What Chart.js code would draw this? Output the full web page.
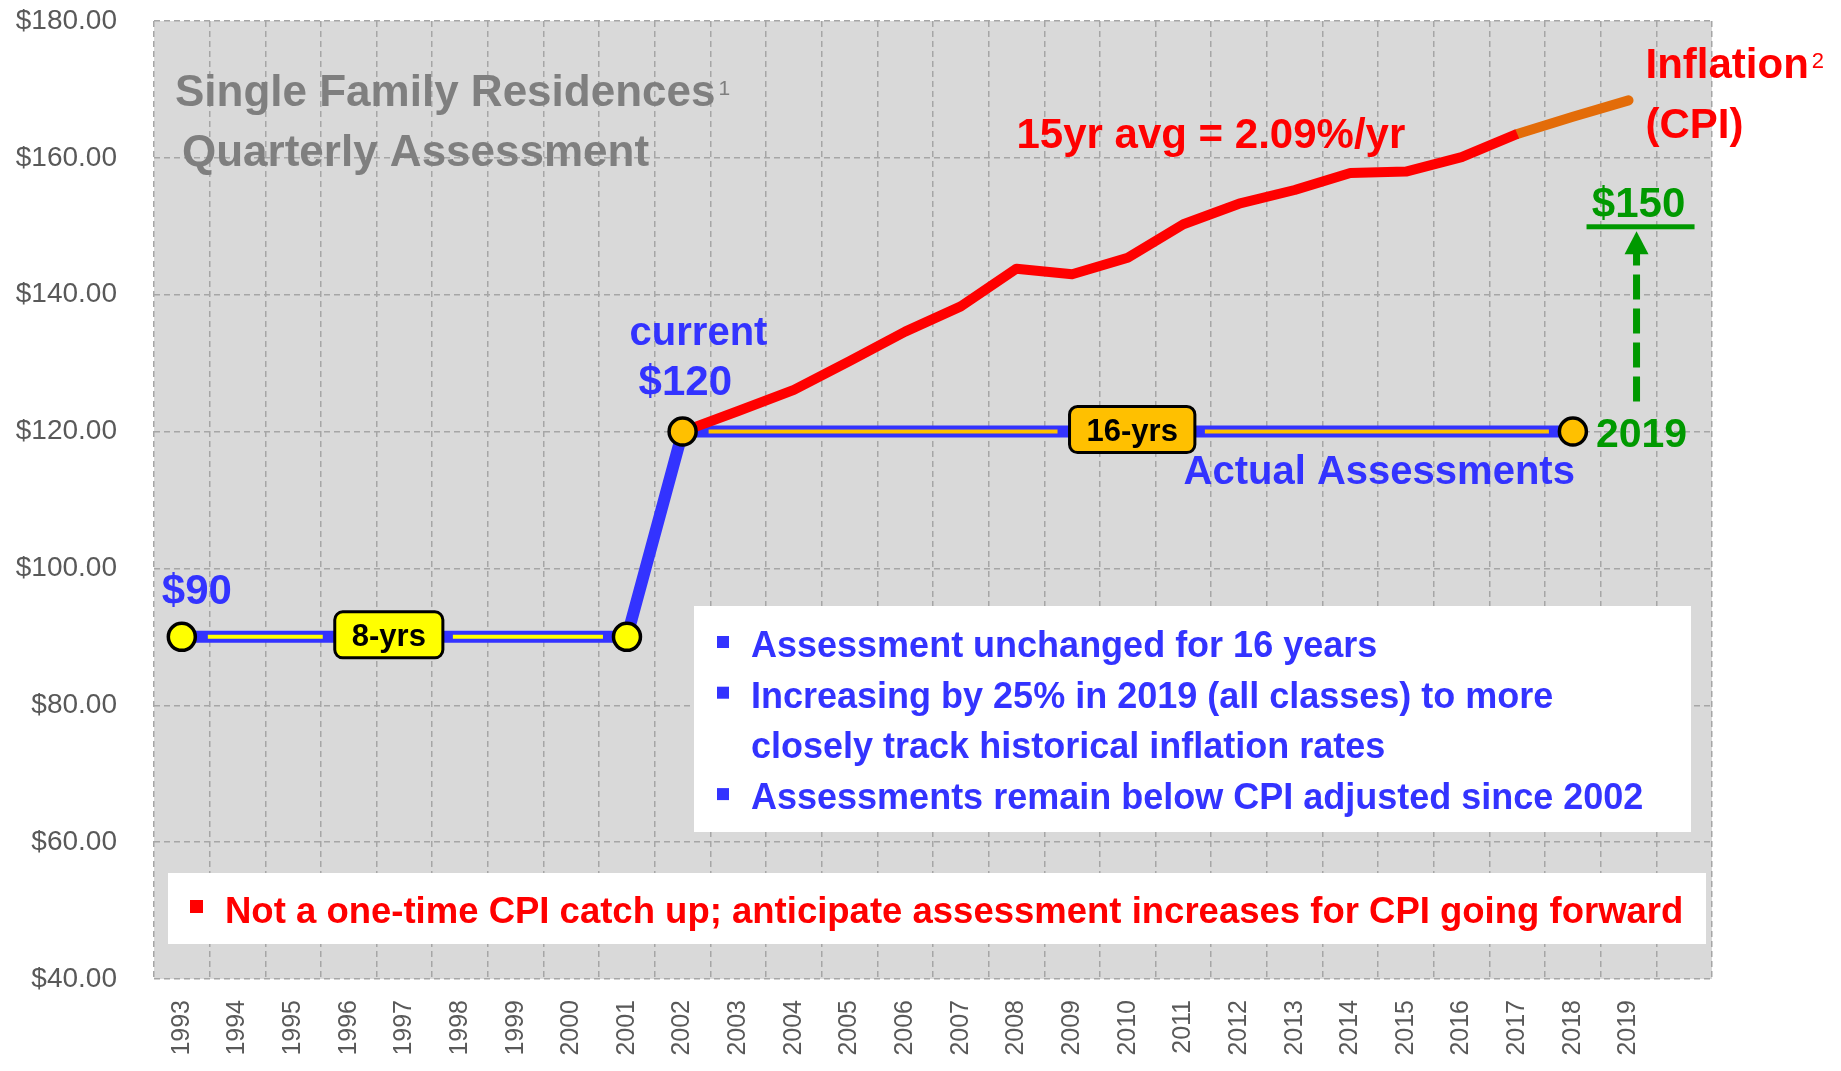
<!DOCTYPE html>
<html>
<head>
<meta charset="utf-8">
<title>Single Family Residences - Quarterly Assessment</title>
<script src="https://cdn.jsdelivr.net/npm/chart.js@4.4.1/dist/chart.umd.min.js"></script>
<style>
  html, body { margin: 0; padding: 0; background: #fff; }
  #wrap { width: 1841px; height: 1071px; position: relative; }
</style>
</head>
<body>
<div id="wrap"><canvas id="chart"></canvas></div>
<script>
// categories (last slot is an empty spacer, as in the original)
const years = ['1993', '1994', '1995', '1996', '1997', '1998', '1999', '2000', '2001',
  '2002', '2003', '2004', '2005', '2006', '2007', '2008', '2009', '2010', '2011',
  '2012', '2013', '2014', '2015', '2016', '2017', '2018', '2019', ''];
const yTicks = [40, 60, 80, 100, 120, 140, 160, 180];

// actual assessments
const assessYears = ['1993', '2001', '2002', '2018'];
const assessValues = [90, 90, 120, 120];

// inflation (CPI) adjusted
const cpiYears = ['2002', '2003', '2004', '2005', '2006', '2007', '2008', '2009', '2010',
  '2011', '2012', '2013', '2014', '2015', '2016', '2017'];
const cpiValues = [120, 123.0, 126.1, 130.3, 134.6, 138.3, 143.8, 143.0, 145.4,
  150.3, 153.3, 155.3, 157.8, 158.0, 160.1, 163.5];
const cpiForecastYears = ['2017', '2018', '2019'];
const cpiForecastValues = [163.5, 166.0, 168.4];

const newAssessment = 150;

const BLUE = '#3333FF';
const RED = '#FF0000';
const ORANGE = '#E36C09';
const GREEN = '#009900';
const YELLOW = '#FFFF00';
const GOLD = '#FFC000';
const GREY_TXT = '#7F7F7F';
const FONT = '"Liberation Sans", Arial, sans-serif';

const pointFill = [YELLOW, YELLOW, GOLD, GOLD];

// the year labels are a narrow face in the original; use it if the box has one
function hasFont(name) {
  const c = document.createElement('canvas').getContext('2d');
  const probe = '1993 wwmmii';
  c.font = '40px monospace';
  const base = c.measureText(probe).width;
  c.font = '40px "' + name + '", monospace';
  return c.measureText(probe).width !== base;
}
const yearFont = hasFont('Liberation Sans Narrow')
  ? { family: '"Liberation Sans Narrow", ' + FONT, size: 30 }
  : { family: FONT, size: 25 };

// put a (keys, values) pair onto the full year axis
function onYears(keys, vals) {
  return years.map(y => {
    const i = keys.indexOf(y);
    return i < 0 ? null : vals[i];
  });
}

function text(ctx, s, x, y, size, color, opts = {}) {
  ctx.font = (opts.weight || 'bold') + ' ' + size + 'px ' + FONT;
  ctx.fillStyle = color;
  ctx.textAlign = opts.align || 'left';
  ctx.textBaseline = 'alphabetic';
  ctx.fillText(s, x, y);
  return ctx.measureText(s).width;
}

function roundRect(ctx, x, y, w, h, r) {
  ctx.beginPath();
  ctx.moveTo(x + r, y);
  ctx.arcTo(x + w, y, x + w, y + h, r);
  ctx.arcTo(x + w, y + h, x, y + h, r);
  ctx.arcTo(x, y + h, x, y, r);
  ctx.arcTo(x, y, x + w, y, r);
  ctx.closePath();
}

// labelled spans on the assessment line
const spans = [
  { text: '8-yrs', from: '1993', to: '2001', fill: YELLOW, at: 0.465 },
  { text: '16-yrs', from: '2002', to: '2018', fill: GOLD, at: 0.505 }
];

const overlay = {
  id: 'overlay',
  beforeDraw(chart) {
    const { ctx, chartArea: a } = chart;
    ctx.save();
    ctx.fillStyle = '#D9D9D9';
    ctx.fillRect(a.left, a.top, a.right - a.left, a.bottom - a.top);
    ctx.restore();
  },
  beforeDatasetsDraw(chart) {
    const { ctx, chartArea: a } = chart;
    ctx.save();
    // white note boxes
    ctx.fillStyle = '#FFFFFF';
    ctx.fillRect(a.left + 540, a.top + 585, 997, 226);
    ctx.fillRect(a.left + 14, a.top + 852, 1538, 71);

    const notes = [
      ['Assessment unchanged for 16 years', true],
      ['Increasing by 25% in 2019 (all classes) to more', true],
      ['closely track historical inflation rates', false],
      ['Assessments remain below CPI adjusted since 2002', true]
    ];
    notes.forEach((n, i) => {
      const base = a.top + 636 + i * 50.7;
      if (n[1]) {
        ctx.fillStyle = BLUE;
        ctx.fillRect(a.left + 563, base - 21, 12, 12);
      }
      text(ctx, n[0], a.left + 597, base, 36, BLUE);
    });

    ctx.fillStyle = RED;
    ctx.fillRect(a.left + 36, a.top + 902 - 23, 13, 13);
    text(ctx, 'Not a one-time CPI catch up; anticipate assessment increases for CPI going forward',
      a.left + 71, a.top + 902, 36.5, RED);
    ctx.restore();
  },
  afterDatasetDraw(chart, args) {
    if (args.index !== 0) return;
    const { ctx } = chart;
    const xs = chart.scales.x, ys = chart.scales.y;
    const X = y => xs.getPixelForValue(years.indexOf(y));
    ctx.save();
    ctx.font = 'bold 31px ' + FONT;
    spans.forEach(s => {
      const x0 = X(s.from), x1 = X(s.to);
      const y = ys.getPixelForValue(assessValues[assessYears.indexOf(s.from)]);
      const cx = x0 + (x1 - x0) * s.at;
      const half = ctx.measureText(s.text).width / 2 + 17;
      ctx.strokeStyle = s.fill;
      ctx.lineWidth = 4;
      ctx.beginPath();
      ctx.moveTo(x0 + 26, y); ctx.lineTo(cx - half - 12, y);
      ctx.moveTo(cx + half + 10, y); ctx.lineTo(x1 - 24, y);
      ctx.stroke();
    });
    ctx.restore();
  },
  afterDatasetsDraw(chart) {
    const { ctx, chartArea: a } = chart;
    const xs = chart.scales.x, ys = chart.scales.y;
    const X = y => xs.getPixelForValue(years.indexOf(y));
    const Y = v => ys.getPixelForValue(v);
    ctx.save();

    // span boxes
    spans.forEach(s => {
      const x0 = X(s.from), x1 = X(s.to);
      const y = Y(assessValues[assessYears.indexOf(s.from)]) - 2;
      const cx = x0 + (x1 - x0) * s.at;
      ctx.font = 'bold 31px ' + FONT;
      const w = ctx.measureText(s.text).width + 34;
      roundRect(ctx, cx - w / 2, y - 23, w, 46, 8);
      ctx.fillStyle = s.fill;
      ctx.fill();
      ctx.lineWidth = 3;
      ctx.strokeStyle = '#000';
      ctx.stroke();
      text(ctx, s.text, cx, y + 11, 31, '#000', { align: 'center' });
    });

    // title
    let w = text(ctx, 'Single Family Residences', a.left + 21, a.top + 85, 44, GREY_TXT);
    text(ctx, '1', a.left + 21 + w + 3, a.top + 74, 21, GREY_TXT, { weight: 'normal' });
    text(ctx, 'Quarterly Assessment', a.left + 28, a.top + 145, 44, GREY_TXT);

    // assessment labels
    text(ctx, '$90', X('1993') - 20, Y(90) - 33, 42, BLUE);
    text(ctx, 'current', X('2002') - 53, Y(120) - 87, 40, BLUE);
    text(ctx, '$120', X('2002') - 44, Y(120) - 37, 42, BLUE);
    text(ctx, 'Actual Assessments', X('2018') + 2, Y(120) + 52, 40, BLUE, { align: 'right' });

    // inflation labels
    const endV = cpiForecastValues[cpiForecastValues.length - 1];
    text(ctx, '15yr avg = 2.09%/yr', X('2008'), Y(161.4), 42, RED);
    w = text(ctx, 'Inflation', X('2019') + 17, Y(endV) - 22, 42, RED);
    text(ctx, '2', X('2019') + 17 + w + 3, Y(endV) - 32, 22, RED, { weight: 'normal' });
    text(ctx, '(CPI)', X('2019') + 17, Y(endV) + 38, 42, RED);

    // 2019 target
    const ax = X('2019') + 10;
    text(ctx, '2019', X('2018') + 23, Y(120) + 15, 41, GREEN);
    text(ctx, '$' + newAssessment, ax, Y(newAssessment) - 9, 42, GREEN, { align: 'center' });
    ctx.fillStyle = GREEN;
    ctx.fillRect(ax - 52, Y(newAssessment) - 2, 108, 5);
    const tip = Y(newAssessment) + 5;
    ctx.strokeStyle = GREEN;
    ctx.lineWidth = 7;
    ctx.setLineDash([25, 9]);
    ctx.beginPath();
    ctx.moveTo(ax - 2, Y(120) - 30);
    ctx.lineTo(ax - 2, tip + 22);
    ctx.stroke();
    ctx.setLineDash([]);
    ctx.beginPath();
    ctx.moveTo(ax - 2, tip);
    ctx.lineTo(ax - 2 + 12, tip + 23);
    ctx.lineTo(ax - 2 - 12, tip + 23);
    ctx.closePath();
    ctx.fill();

    ctx.restore();
  }
};

new Chart(document.getElementById('chart'), {
  type: 'line',
  data: {
    labels: years,
    datasets: [
      {
        label: 'Actual Assessments',
        data: onYears(assessYears, assessValues),
        borderColor: BLUE,
        borderWidth: 12,
        pointRadius: 0,
        spanGaps: true,
        tension: 0,
        order: 3
      },
      {
        label: 'Inflation (CPI)',
        data: onYears(cpiYears, cpiValues),
        borderColor: RED,
        borderWidth: 10,
        borderJoinStyle: 'round',
        pointRadius: 0,
        tension: 0,
        order: 1
      },
      {
        label: 'Inflation (CPI) 2018-2019',
        data: onYears(cpiForecastYears, cpiForecastValues),
        borderColor: ORANGE,
        borderWidth: 10,
        borderCapStyle: 'round',
        pointRadius: 0,
        tension: 0,
        order: 2
      },
      {
        label: 'Assessment points',
        data: onYears(assessYears, assessValues),
        showLine: false,
        pointRadius: 13.5,
        pointBorderWidth: 3.5,
        pointBorderColor: '#000',
        pointBackgroundColor: onYears(assessYears, pointFill),
        order: 0
      }
    ]
  },
  options: {
    responsive: true,
    maintainAspectRatio: false,
    animation: false,
    layout: { padding: { top: 21, right: 129, left: 0, bottom: 0 } },
    plugins: { legend: { display: false }, tooltip: { enabled: false } },
    scales: {
      x: {
        offset: true,
        grid: { offset: true, color: '#A6A6A6', lineWidth: 1.5, drawTicks: false },
        border: { display: false, dash: [6, 4] },
        ticks: {
          color: '#595959',
          font: yearFont,
          minRotation: 90,
          maxRotation: 90,
          autoSkip: false,
          padding: 21
        },
        afterFit: s => { s.height = 92; }
      },
      y: {
        min: 40,
        max: 180,
        afterBuildTicks: s => { s.ticks = yTicks.map(v => ({ value: v })); },
        // invisible tick marks give the label gap without padding the top
        grid: { color: '#A6A6A6', lineWidth: 1.5, drawTicks: true, tickLength: 37, tickColor: 'rgba(0,0,0,0)' },
        border: { display: false, dash: [6, 4] },
        ticks: {
          color: '#595959',
          font: { family: FONT, size: 28 },
          padding: 0,
          callback: v => '$' + Number(v).toFixed(2)
        },
        afterFit: s => { s.width = 154; }
      }
    }
  },
  plugins: [overlay]
});
</script>
</body>
</html>
